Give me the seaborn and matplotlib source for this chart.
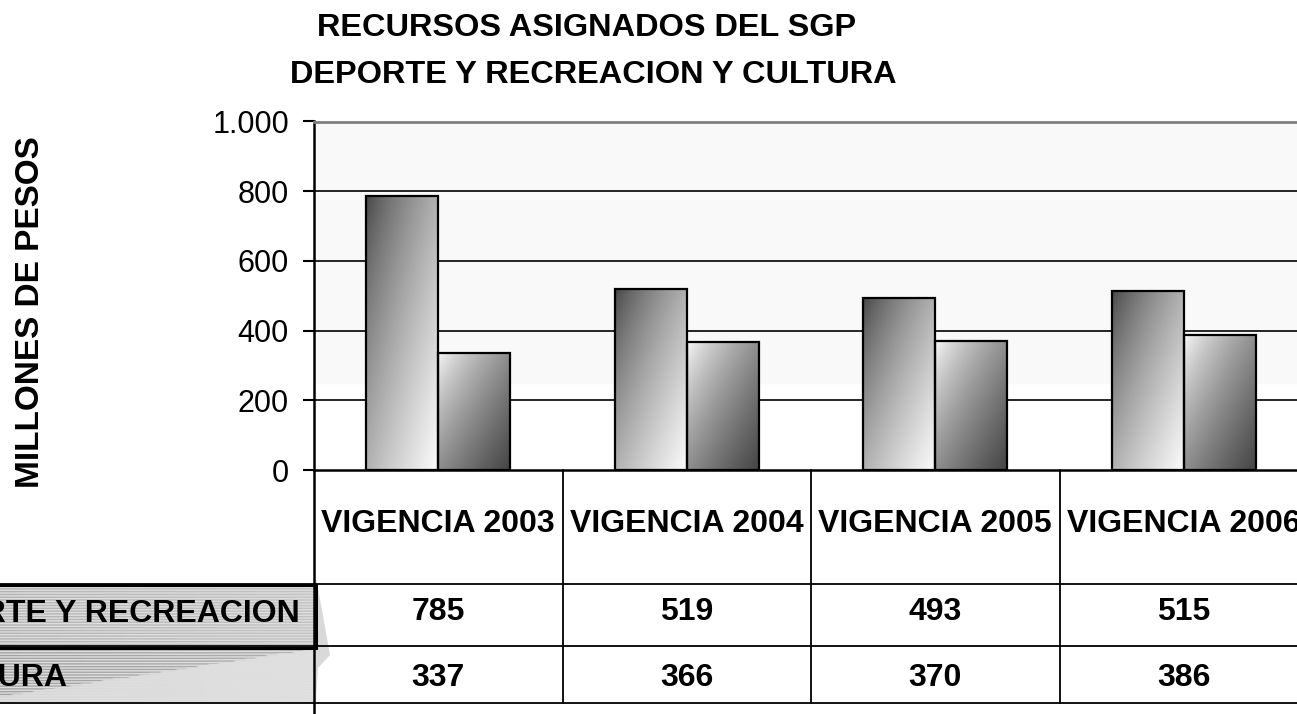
import numpy as np
import pandas as pd
import matplotlib.pyplot as plt
import matplotlib.ticker as ticker
from matplotlib.colors import LinearSegmentedColormap
from matplotlib.patches import Rectangle, Polygon
import seaborn as sns

# data
categorias = ["VIGENCIA 2003", "VIGENCIA 2004", "VIGENCIA 2005", "VIGENCIA 2006"]
series = ["DEPORTE Y RECREACION", "CULTURA"]
deporte = [785, 519, 493, 515]
cultura = [337, 366, 370, 386]
yticks = [0, 200, 400, 600, 800, 1000]

df = pd.DataFrame({
    "categoria": categorias + categorias,
    "serie": [series[0]] * len(categorias) + [series[1]] * len(categorias),
    "valor": deporte + cultura,
})

sns.set_theme(style="white")
plt.rcParams["font.family"] = ["Liberation Sans", "DejaVu Sans"]
plt.rcParams["text.color"] = "black"
plt.rcParams["ytick.color"] = "black"

W, H = 1297, 714
fig = plt.figure(figsize=(W / 100, H / 100), dpi=100, facecolor="white")

# pixel layout
x0, cat_w = 314, 248.5
y_top, y_zero = 121.5, 470
ax = fig.add_axes([x0 / W, (H - y_zero) / H, 4 * cat_w / W, (y_zero - y_top) / H])
ax_t = fig.add_axes([x0 / W, 0, 4 * cat_w / W, (H - y_zero) / H])

sns.barplot(data=df, x="categoria", y="valor", hue="serie", order=categorias,
            hue_order=series, width=0.58, palette=["#888888", "#cccccc"],
            edgecolor="black", linewidth=1.6, saturation=1, legend=False, ax=ax)

# gradient fills
cmap = LinearSegmentedColormap.from_list("g", ["#444444", "#fcfcfc"])
gray = LinearSegmentedColormap.from_list("gray_lin", ["black", "white"])
for k, cont in enumerate(ax.containers):
    for bar in cont:
        x, y = bar.get_x(), bar.get_y()
        w, h = bar.get_width(), bar.get_height()
        U, V = np.meshgrid(np.linspace(0, 1, 64), np.linspace(0, 1, 128))
        t = ((U + V) / 2) ** 0.75
        if k == 1:
            t = 1 - t
        img = ax.imshow(t, cmap=cmap, vmin=0, vmax=1, extent=[x, x + w, y, y + h],
                        origin="upper", aspect="auto", zorder=2, interpolation="bilinear")
        img.set_clip_path(bar)
        bar.set_facecolor("none")
        bar.set_zorder(3)

ax.set_xlim(-0.5, 3.5)
ax.set_ylim(0, 1000)
ax.axhspan(250, 1000, color="#f9f9f9", zorder=0)
for v in yticks[1:-1]:
    ax.axhline(v, color="black", lw=1.2, zorder=1)

ax.set_yticks(yticks)
ax.yaxis.set_major_formatter(ticker.FuncFormatter(lambda v, p: f"{int(v):,}".replace(",", ".")))
ax.tick_params(axis="y", left=True, direction="out", length=8, width=1.5, pad=10,
               labelsize=22, colors="black")
ax.set_xticks([])
ax.set_xlabel("")
ax.set_ylabel("")
for side in ["left", "bottom"]:
    ax.spines[side].set_color("black")
    ax.spines[side].set_linewidth(1.8)
ax.spines["top"].set_color("#808080")
ax.spines["top"].set_linewidth(2)
ax.spines["right"].set_visible(False)

# data table (y in pixels from the bottom)
ax_t.set_xlim(-0.5, 3.5)
ax_t.set_ylim(0, H - y_zero)
ax_t.axis("off")
left_edge = -0.5 - x0 / cat_w - 0.1
r1, r2, r3 = H - 584, H - 646, H - 703

# row header backgrounds
U, V = np.meshgrid(np.linspace(0, 1, 64), np.linspace(0, 1, 32))
bg1 = ax_t.imshow(0.70 + 0.06 * U, cmap=gray, vmin=0, vmax=1,
                  extent=[left_edge, -0.5, r2, r1], aspect="auto", zorder=0)
bg2 = ax_t.imshow(np.where(V < 0.92 * (1 - U) + 0.04, 0.64, 0.84) + 0.04 * U, cmap=gray,
                  vmin=0, vmax=1, extent=[left_edge, -0.5, r3, r2], origin="upper",
                  aspect="auto", zorder=0)
for img in (bg1, bg2):
    img.set_clip_on(False)
for y0, y1 in [(r2, r1), (r3, r2)]:
    ax_t.add_patch(Rectangle((left_edge, y0), -0.5 - left_edge, y1 - y0, facecolor="none",
                             edgecolor="#dedede", hatch="------", lw=0, clip_on=False, zorder=1))
# soft shadow right of the row headers
shadow_px = [(316, 578), (322, 610), (330, 655), (318, 668), (316, 700)]
ax_t.add_patch(Polygon([(-0.5 + (px - x0) / cat_w, H - py) for px, py in shadow_px],
                       closed=True, facecolor="#d9d9d9", lw=0, clip_on=False, zorder=1))

for y in [r1, r2, r3]:
    ax_t.plot([left_edge, 3.5], [y, y], color="black", lw=1.3, clip_on=False, zorder=3)
ax_t.plot([-0.5, -0.5], [H - y_zero, 0], color="black", lw=1.8, clip_on=False, zorder=3)
for i in range(1, 5):
    ax_t.plot([i - 0.5, i - 0.5], [H - y_zero, r3], color="black", lw=1.3, clip_on=False, zorder=3)
ax_t.add_patch(Rectangle((left_edge, r2 - 2), -0.49 - left_edge, r1 - r2 + 1, facecolor="none",
                         edgecolor="black", lw=2.2, clip_on=False, zorder=4))

for i, cat in enumerate(categorias):
    ax_t.text(i, H - 524, cat, ha="center", va="center", fontsize=23, fontweight="bold")
    ax_t.text(i, H - 612, str(deporte[i]), ha="center", va="center", fontsize=23, fontweight="bold")
    ax_t.text(i, H - 678, str(cultura[i]), ha="center", va="center", fontsize=23, fontweight="bold")

ax_t.text(-0.5 - 14 / cat_w, H - 614, series[0], ha="right", va="center",
          fontsize=23, fontweight="bold", clip_on=False, zorder=5)
ax_t.text(-0.5 - 246 / cat_w, H - 678, series[1], ha="right", va="center",
          fontsize=23, fontweight="bold", clip_on=False, zorder=5)

# titles
fig.text(587 / W, 1 - 28 / H, "RECURSOS ASIGNADOS DEL SGP", ha="center", va="center",
         fontsize=23.4, fontweight="bold")
fig.text(593 / W, 1 - 75 / H, "DEPORTE Y RECREACION Y CULTURA", ha="center", va="center",
         fontsize=23.4, fontweight="bold")
fig.text(31 / W, 1 - 312 / H, "MILLONES DE PESOS", rotation=90, ha="center", va="center",
         fontsize=24, fontweight="bold")

fig.savefig("out.png", dpi=100, facecolor="white")
